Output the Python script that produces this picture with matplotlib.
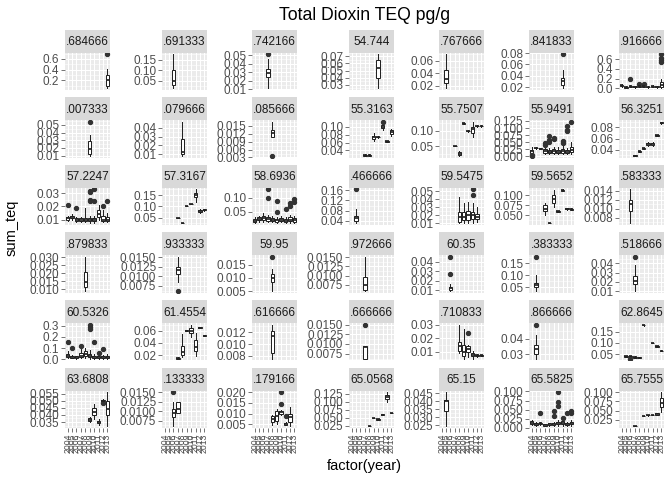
import matplotlib
matplotlib.use("Agg")
import matplotlib.pyplot as plt
import numpy as np

plt.rcParams['font.family'] = ['Liberation Sans', 'DejaVu Sans']

years = ['2004', '2005', '2006', '2007', '2008', '2009', '2010', '2011', '2012', '2013']

strip_labels = [
    '.684666', '.691333', '.742166', '54.744', '.767666', '.841833', '.916666',
    '.007333', '.079666', '.085666', '55.3163', '55.7507', '55.9491', '56.3251',
    '57.2247', '57.3167', '58.6936', '.466666', '59.5475', '59.5652', '.583333',
    '.879833', '.933333', '59.95', '.972666', '60.35', '.383333', '.518666',
    '60.5326', '61.4554', '.616666', '.666666', '.710833', '.866666', '62.8645',
    '63.6808', '.133333', '.179166', '65.0568', '65.15', '65.5825', '65.7555',
]

# y tick labels per facet (free y scales)
yticks = [
    ['0.2', '0.4', '0.6'], ['0.05', '0.10', '0.15'], ['0.01', '0.02', '0.03', '0.04', '0.05'],
    ['0.02', '0.03', '0.04', '0.05', '0.06', '0.07'], ['0.02', '0.04', '0.06'],
    ['0.02', '0.04', '0.06', '0.08'], ['0.0', '0.2', '0.4', '0.6'],
    ['0.01', '0.02', '0.03', '0.04', '0.05'], ['0.01', '0.02', '0.03', '0.04'],
    ['0.003', '0.006', '0.009', '0.012', '0.015'], ['0.02', '0.04', '0.06', '0.08', '0.10'],
    ['0.05', '0.10'], ['0.000', '0.025', '0.050', '0.075', '0.100', '0.125'],
    ['0.04', '0.06', '0.08'],
    ['0.01', '0.02', '0.03'], ['0.05', '0.10', '0.15'], ['0.00', '0.05', '0.10'],
    ['0.04', '0.08', '0.12', '0.16'], ['0.01', '0.02', '0.03', '0.04', '0.05'],
    ['0.025', '0.050', '0.075', '0.100'], ['0.008', '0.010', '0.012', '0.014'],
    ['0.010', '0.015', '0.020', '0.025', '0.030'], ['0.0075', '0.0100', '0.0125', '0.0150'],
    ['0.005', '0.010', '0.015'], ['0.0075', '0.0100', '0.0125', '0.0150'],
    ['0.01', '0.02', '0.03', '0.04'], ['0.05', '0.10', '0.15'], ['0.01', '0.02', '0.03', '0.04'],
    ['0.0', '0.1', '0.2', '0.3'], ['0.02', '0.04', '0.06'], ['0.008', '0.010', '0.012'],
    ['0.0075', '0.0100', '0.0125', '0.0150'], ['0.01', '0.02', '0.03'], ['0.03', '0.04'],
    ['0.05', '0.10', '0.15'],
    ['0.035', '0.040', '0.045', '0.050', '0.055'], ['0.0075', '0.0100', '0.0125', '0.0150'],
    ['0.005', '0.010', '0.015', '0.020'], ['0.025', '0.050', '0.075', '0.100', '0.125'],
    ['0.025', '0.030', '0.035', '0.040', '0.045'], ['0.000', '0.025', '0.050', '0.075', '0.100'],
    ['0.025', '0.050', '0.075', '0.100'],
]

# box stats per facet: (year index, whisker low, q1, median, q3, whisker high, [outliers])
boxes = [
    [(10, 0.05, 0.09, 0.20, 0.30, 0.42, [0.69])],
    [(3, 0.015, 0.03, 0.05, 0.10, 0.175)],
    [(4, 0.011, 0.024, 0.029, 0.034, 0.045, [0.051])],
    [(7, 0.025, 0.039, 0.054, 0.065, 0.073)],
    [(2, 0.016, 0.024, 0.03, 0.045, 0.07)],
    [(8, 0.018, 0.023, 0.03, 0.036, 0.05, [0.078])],
    [(1, 0.03, 0.05, 0.06, 0.07, 0.08), (2, 0.0, 0.01, 0.02, 0.03, 0.04),
     (3, 0.02, 0.03, 0.04, 0.05, 0.06, [0.2]), (4, 0.01, 0.02, 0.03, 0.04, 0.05),
     (5, 0.02, 0.03, 0.04, 0.05, 0.06, [0.08]), (6, 0.02, 0.03, 0.04, 0.05, 0.06, [0.09]),
     (7, 0.01, 0.02, 0.03, 0.03, 0.04), (8, 0.02, 0.03, 0.04, 0.05, 0.06),
     (9, 0.01, 0.02, 0.03, 0.04, 0.05), (10, 0.01, 0.03, 0.06, 0.12, 0.2, [0.55, 0.58, 0.62, 0.7])],
    # row 2
    [(6, 0.0095, 0.0124, 0.018, 0.029, 0.037, [0.054])],
    [(5, 0.008, 0.010, 0.013, 0.027, 0.047)],
    [(5, 0.0108, 0.0108, 0.0121, 0.0134, 0.0165, [0.0036])],
    [(4, 0.026, 0.027, 0.028, 0.029, 0.030), (5, 0.026, 0.027, 0.028, 0.029, 0.030),
     (6, 0.063, 0.068, 0.073, 0.078, 0.084), (7, 0.072, 0.073, 0.074, 0.075, 0.076),
     (8, 0.093, 0.096, 0.100, 0.104, 0.109, [0.113]), (9, 0.062, 0.062, 0.063, 0.064, 0.064),
     (10, 0.078, 0.082, 0.086, 0.091, 0.095)],
    [(4, 0.05, 0.05, 0.05, 0.05, 0.05), (5, 0.02, 0.024, 0.027, 0.032, 0.036),
     (6, 0.122, 0.122, 0.123, 0.124, 0.124), (7, 0.097, 0.098, 0.099, 0.100, 0.101),
     (8, 0.08, 0.092, 0.105, 0.112, 0.128), (9, 0.113, 0.114, 0.115, 0.116, 0.117),
     (10, 0.113, 0.114, 0.115, 0.116, 0.117)],
    [(1, 0.008, 0.012, 0.018, 0.024, 0.032, [0.002, 0.004]), (2, 0.028, 0.029, 0.030, 0.031, 0.032),
     (3, 0.026, 0.027, 0.028, 0.029, 0.030), (4, 0.008, 0.012, 0.018, 0.026, 0.035, [0.042, 0.046]),
     (5, 0.008, 0.012, 0.016, 0.022, 0.03, [0.052, 0.058, 0.072]),
     (6, 0.008, 0.012, 0.018, 0.025, 0.035, [0.062, 0.065]), (7, 0.008, 0.013, 0.017, 0.024, 0.034),
     (8, 0.008, 0.012, 0.018, 0.026, 0.038, [0.046, 0.052, 0.056]),
     (9, 0.008, 0.012, 0.016, 0.022, 0.03, [0.088, 0.094, 0.106]),
     (10, 0.008, 0.014, 0.022, 0.034, 0.05, [0.122])],
    [(4, 0.029, 0.029, 0.029, 0.030, 0.030), (5, 0.036, 0.036, 0.037, 0.037, 0.037),
     (6, 0.042, 0.042, 0.043, 0.043, 0.044), (7, 0.047, 0.048, 0.050, 0.052, 0.053),
     (8, 0.047, 0.048, 0.050, 0.052, 0.053), (9, 0.065, 0.065, 0.066, 0.066, 0.067),
     (10, 0.086, 0.087, 0.088, 0.089, 0.090)],
    # row 3
    [(1, 0.009, 0.010, 0.011, 0.012, 0.013, [0.021]), (2, 0.010, 0.011, 0.012, 0.013, 0.014),
     (3, 0.008, 0.009, 0.010, 0.011, 0.012, [0.019]), (4, 0.008, 0.009, 0.010, 0.011, 0.012),
     (5, 0.008, 0.009, 0.010, 0.011, 0.019),
     (6, 0.007, 0.009, 0.010, 0.011, 0.013, [0.024, 0.025, 0.031, 0.032]),
     (7, 0.007, 0.009, 0.0095, 0.011, 0.013, [0.024, 0.033]),
     (8, 0.010, 0.012, 0.014, 0.017, 0.021), (9, 0.008, 0.009, 0.010, 0.013, 0.017, [0.02]),
     (10, 0.008, 0.009, 0.010, 0.012, 0.015, [0.024])],
    [(4, 0.05, 0.05, 0.05, 0.05, 0.05), (5, 0.025, 0.025, 0.025, 0.025, 0.025),
     (6, 0.10, 0.10, 0.10, 0.10, 0.10), (7, 0.11, 0.11, 0.11, 0.11, 0.11),
     (8, 0.12, 0.14, 0.15, 0.16, 0.175), (9, 0.07, 0.075, 0.08, 0.085, 0.09),
     (10, 0.082, 0.084, 0.085, 0.087, 0.088)],
    [(1, 0.010, 0.013, 0.018, 0.024, 0.03), (2, 0.012, 0.02, 0.025, 0.03, 0.035),
     (3, 0.012, 0.02, 0.028, 0.035, 0.045), (4, 0.012, 0.018, 0.024, 0.03, 0.04, [0.098, 0.13]),
     (5, 0.012, 0.018, 0.022, 0.028, 0.036), (6, 0.010, 0.015, 0.02, 0.025, 0.032, [0.05, 0.09]),
     (7, 0.012, 0.018, 0.022, 0.028, 0.035), (8, 0.008, 0.014, 0.018, 0.024, 0.03, [0.06]),
     (9, 0.010, 0.016, 0.022, 0.03, 0.04, [0.07, 0.08]),
     (10, 0.010, 0.015, 0.02, 0.026, 0.034, [0.085, 0.095])],
    [(2, 0.03, 0.04, 0.05, 0.06, 0.085, [0.163])],
    [(5, 0.010, 0.012, 0.018, 0.024, 0.043), (6, 0.010, 0.014, 0.018, 0.024, 0.035),
     (7, 0.011, 0.014, 0.020, 0.026, 0.037), (8, 0.011, 0.015, 0.020, 0.024, 0.035, [0.045, 0.052]),
     (9, 0.012, 0.015, 0.018, 0.022, 0.030)],
    [(4, 0.05, 0.06, 0.065, 0.075, 0.08), (5, 0.03, 0.03, 0.031, 0.032, 0.032),
     (6, 0.07, 0.08, 0.09, 0.1, 0.112), (7, 0.058, 0.059, 0.06, 0.061, 0.062),
     (8, 0.11, 0.111, 0.112, 0.113, 0.114), (9, 0.064, 0.065, 0.066, 0.067, 0.068),
     (10, 0.063, 0.064, 0.065, 0.066, 0.067)],
    [(3, 0.0067, 0.0095, 0.011, 0.012, 0.0143)],
    # row 4
    [(5, 0.0087, 0.0115, 0.0145, 0.0205, 0.030)],
    [(4, 0.0085, 0.0105, 0.0115, 0.0125, 0.015, [0.0061])],
    [(5, 0.005, 0.0085, 0.010, 0.0115, 0.0135, [0.018])],
    [(4, 0.0058, 0.006, 0.0075, 0.0095, 0.015)],
    [(3, 0.009, 0.0105, 0.012, 0.0135, 0.016, [0.027, 0.045])],
    [(2, 0.035, 0.05, 0.06, 0.07, 0.10, [0.175])],
    [(4, 0.01, 0.018, 0.021, 0.026, 0.038, [0.047])],
    # row 5
    [(1, 0.01, 0.02, 0.03, 0.05, 0.07, [0.15]), (2, 0.01, 0.015, 0.02, 0.03, 0.04, [0.1]),
     (3, 0.005, 0.01, 0.02, 0.025, 0.03), (4, 0.01, 0.02, 0.03, 0.06, 0.1, [0.12]),
     (5, 0.01, 0.03, 0.05, 0.07, 0.1), (6, 0.005, 0.02, 0.03, 0.05, 0.08, [0.27, 0.29, 0.31]),
     (7, 0.005, 0.015, 0.02, 0.03, 0.05, [0.15]), (8, 0.005, 0.01, 0.02, 0.03, 0.04, [0.06]),
     (9, 0.005, 0.01, 0.02, 0.03, 0.04, [0.09]), (10, 0.005, 0.01, 0.02, 0.03, 0.045)],
    [(4, 0.014, 0.014, 0.015, 0.015, 0.016), (5, 0.016, 0.02, 0.025, 0.035, 0.055),
     (6, 0.059, 0.06, 0.06, 0.061, 0.061), (7, 0.05, 0.056, 0.06, 0.064, 0.07),
     (8, 0.018, 0.026, 0.034, 0.044, 0.056), (9, 0.064, 0.065, 0.065, 0.066, 0.066),
     (10, 0.051, 0.052, 0.052, 0.053, 0.053)],
    [(5, 0.0075, 0.0085, 0.0113, 0.0122, 0.0133)],
    [(4, 0.0062, 0.0062, 0.0093, 0.0094, 0.0094, [0.015])],
    [(5, 0.009, 0.011, 0.014, 0.017, 0.030), (6, 0.005, 0.007, 0.010, 0.015, 0.027),
     (7, 0.006, 0.010, 0.012, 0.014, 0.015, [0.024]), (8, 0.005, 0.007, 0.008, 0.009, 0.011),
     (9, 0.0065, 0.007, 0.0075, 0.008, 0.0085), (10, 0.007, 0.0072, 0.0075, 0.0078, 0.008)],
    [(2, 0.027, 0.030, 0.033, 0.036, 0.042, [0.049])],
    [(2, 0.038, 0.039, 0.04, 0.041, 0.042), (3, 0.036, 0.038, 0.04, 0.042, 0.044, [0.03]),
     (4, 0.032, 0.034, 0.036, 0.038, 0.04), (5, 0.033, 0.034, 0.035, 0.036, 0.037),
     (6, 0.178, 0.179, 0.18, 0.181, 0.182), (8, 0.098, 0.099, 0.1, 0.101, 0.102),
     (9, 0.083, 0.084, 0.085, 0.086, 0.087), (10, 0.063, 0.064, 0.065, 0.066, 0.067)],
    # row 6
    [(6, 0.035, 0.0355, 0.0365, 0.038, 0.0385), (7, 0.037, 0.040, 0.042, 0.045, 0.048),
     (8, 0.033, 0.034, 0.035, 0.036, 0.037), (9, 0.049, 0.0495, 0.050, 0.0505, 0.0515, [0.0485]),
     (10, 0.032, 0.040, 0.044, 0.050, 0.056)],
    [(3, 0.006, 0.0085, 0.0095, 0.0105, 0.0125, [0.015]), (4, 0.0095, 0.0095, 0.0105, 0.0125, 0.0125)],
    [(5, 0.0045, 0.006, 0.0075, 0.009, 0.0095), (6, 0.005, 0.0065, 0.009, 0.011, 0.012),
     (7, 0.0095, 0.01, 0.0105, 0.011, 0.0115, [0.0145, 0.02]),
     (8, 0.0045, 0.0048, 0.005, 0.0055, 0.006, [0.009]), (9, 0.004, 0.006, 0.0085, 0.01, 0.013)],
    [(5, 0.024, 0.024, 0.025, 0.025, 0.026), (6, 0.049, 0.05, 0.05, 0.051, 0.051),
     (7, 0.044, 0.045, 0.046, 0.047, 0.048), (8, 0.059, 0.06, 0.06, 0.061, 0.061),
     (9, 0.1, 0.11, 0.115, 0.122, 0.13), (10, 0.064, 0.065, 0.065, 0.066, 0.066)],
    [(2, 0.0245, 0.034, 0.040, 0.041, 0.0455)],
    [(1, 0.008, 0.01, 0.014, 0.018, 0.02), (2, 0.006, 0.008, 0.01, 0.013, 0.015),
     (3, 0.008, 0.01, 0.012, 0.014, 0.016, [0.042]), (4, 0.004, 0.005, 0.007, 0.009, 0.01),
     (5, 0.006, 0.008, 0.01, 0.012, 0.014), (6, 0.006, 0.008, 0.011, 0.014, 0.017, [0.032, 0.045]),
     (7, 0.006, 0.01, 0.013, 0.016, 0.02, [0.06, 0.07, 0.098]),
     (8, 0.006, 0.01, 0.014, 0.018, 0.022, [0.027]), (9, 0.005, 0.008, 0.011, 0.014, 0.017, [0.04]),
     (10, 0.006, 0.009, 0.012, 0.015, 0.02, [0.04, 0.045])],
    [(4, 0.007, 0.0075, 0.008, 0.0085, 0.009), (6, 0.034, 0.0345, 0.035, 0.0355, 0.036),
     (7, 0.036, 0.0365, 0.037, 0.0375, 0.038), (8, 0.037, 0.0375, 0.038, 0.0385, 0.039),
     (9, 0.037, 0.038, 0.040, 0.042, 0.043), (10, 0.045, 0.06, 0.07, 0.085, 0.10)],
]

W, H = 672, 480
col_left = [65, 162, 252, 349, 439, 529, 619]
pw = 45
strip_h = 23
panel_h = 37.5
ncol = 7

fig = plt.figure(figsize=(W / 96, H / 96), dpi=96)

for i, lab in enumerate(strip_labels):
    r, c = divmod(i, ncol)
    x0 = col_left[c]
    top = 29.5 + 67.6 * r

    # strip
    sax = fig.add_axes([x0 / W, 1 - (top + strip_h) / H, pw / W, strip_h / H])
    sax.set_facecolor('#D9D9D9')
    sax.set_xticks([])
    sax.set_yticks([])
    for s in sax.spines.values():
        s.set_visible(False)
    sax.text(0.5, 0.45, lab, ha='center', va='center', fontsize=8.8,
             color='#1A1A1A', transform=sax.transAxes, clip_on=True)

    # panel
    ax = fig.add_axes([x0 / W, 1 - (top + strip_h + panel_h) / H, pw / W, panel_h / H])
    ax.set_facecolor('#EBEBEB')
    for s in ax.spines.values():
        s.set_visible(False)

    stats = []
    pos = []
    allv = []
    for b in boxes[i]:
        fl = b[6] if len(b) > 6 else []
        stats.append(dict(whislo=b[1], q1=b[2], med=b[3], q3=b[4], whishi=b[5], fliers=fl))
        pos.append(b[0])
        allv += list(b[1:6]) + list(fl)

    ax.bxp(stats, positions=pos, widths=0.75, patch_artist=True, showcaps=False,
           boxprops=dict(facecolor='white', edgecolor='#222222', linewidth=0.75),
           medianprops=dict(color='#222222', linewidth=1.3),
           whiskerprops=dict(color='#222222', linewidth=0.75),
           flierprops=dict(marker='o', markerfacecolor='#333333', markeredgecolor='#333333',
                           markersize=3.0, linestyle='none'),
           zorder=3)

    lo, hi = min(allv), max(allv)
    pad = 0.05 * (hi - lo)
    ax.set_xlim(0.4, len(years) + 0.6)

    tv = [float(t) for t in yticks[i]]
    ax.set_yticks(tv, labels=yticks[i])
    step = tv[1] - tv[0]
    minor = np.arange(tv[0] - step / 2, hi + pad + step, step)
    ax.set_yticks(minor, minor=True)
    ax.set_ylim(lo - pad, hi + pad)
    ax.set_xticks(range(1, len(years) + 1))

    ax.grid(True, which='major', color='white', linewidth=0.8, zorder=0)
    ax.grid(True, which='minor', axis='y', color='white', linewidth=0.4, zorder=0)
    ax.set_axisbelow(True)
    ax.tick_params(axis='y', which='major', length=2.75, width=0.5, color='#333333',
                   labelsize=8.8, labelcolor='#4D4D4D', pad=1.5)
    ax.tick_params(axis='y', which='minor', length=0)

    if r == 5:
        ax.set_xticklabels(years, rotation=90, fontsize=6.5, color='#4D4D4D')
        ax.tick_params(axis='x', length=2.75, width=0.5, color='#333333', pad=1.5)
    else:
        ax.tick_params(axis='x', length=0, labelbottom=False)

fig.text((65 + 664) / 2 / W, 1 - 15 / H, 'Total Dioxin TEQ pg/g', ha='center', va='center',
         fontsize=13.2, color='black')
fig.text((65 + 664) / 2 / W, 1 - 466 / H, 'factor(year)', ha='center', va='center',
         fontsize=11, color='black')
fig.text(12 / W, 1 - 228 / H, 'sum_teq', ha='center', va='center', rotation=90,
         fontsize=11, color='black')

fig.savefig('out.png', dpi=96, facecolor='white')
